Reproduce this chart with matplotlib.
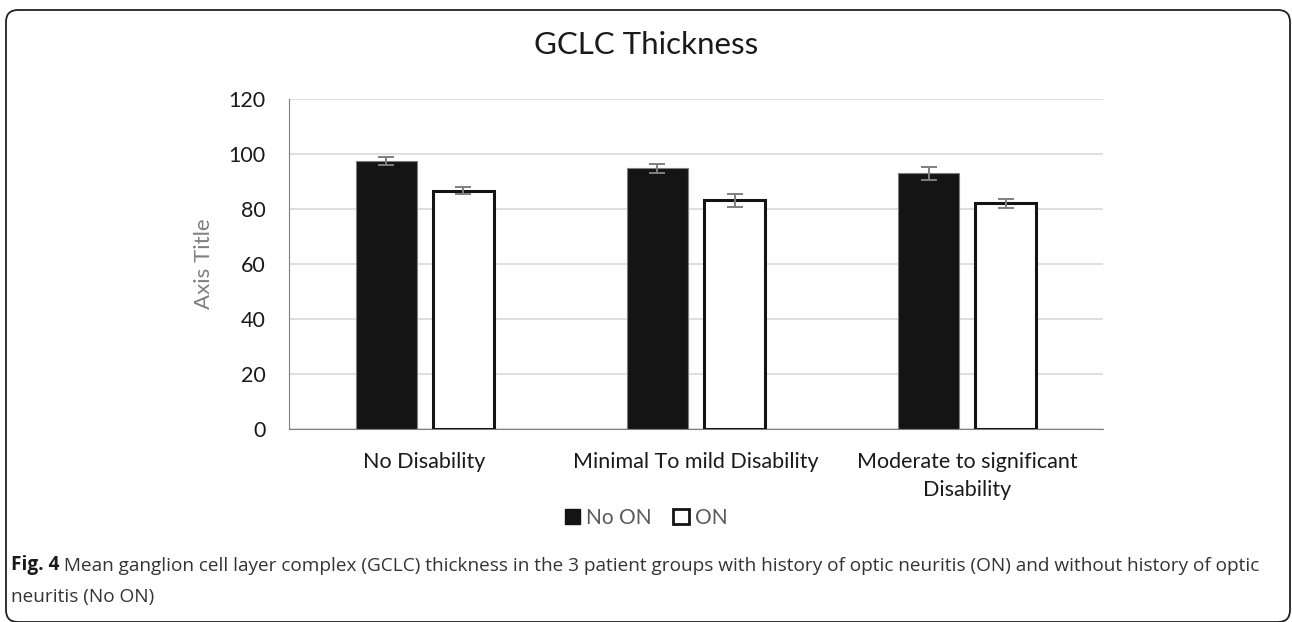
import numpy as np
import matplotlib
matplotlib.use("Agg")
import matplotlib.pyplot as plt
from matplotlib.patches import FancyBboxPatch, Patch

# data
groups = ["No Disability", "Minimal To mild Disability", "Moderate to significant\nDisability"]
no_on = [97.4, 94.8, 92.9]
no_on_err = [1.6, 1.6, 2.2]
on = [86.6, 83.1, 82.0]
on_err = [1.2, 2.4, 1.5]

plt.rcParams["font.family"] = ["Lato", "DejaVu Sans"]

fig = plt.figure(figsize=(12.92, 6.22), dpi=100)

# background layer in pixel coords: rounded frame + caption
bg = fig.add_axes([0, 0, 1, 1], zorder=-1)
bg.set_xlim(0, 1292)
bg.set_ylim(622, 0)
bg.axis("off")
frame = FancyBboxPatch((6, 10), 1284, 612, boxstyle="round,pad=0,rounding_size=12",
                       fc="white", ec="#222222", lw=1.3)
bg.add_patch(frame)
cap_font = ["Open Sans", "DejaVu Sans"]
t = bg.text(11, 565, "Fig. 4", fontsize=13.7, fontweight="bold", family=cap_font,
            color="#1a1a1a", va="center", ha="left")
bg.annotate(" Mean ganglion cell layer complex (GCLC) thickness in the 3 patient groups with history "
            "of optic neuritis (ON) and without history of optic",
            xy=(1, 0), xycoords=t, va="bottom", ha="left", fontsize=13.7, family=cap_font,
            color="#333333")
bg.text(11, 597, "neuritis (No ON)", fontsize=13.7, family=cap_font, color="#333333",
        va="center", ha="left")

ax = fig.add_axes([289 / 1292, 1 - 428.7 / 622, 814 / 1292, (428.7 - 99) / 622])
x = np.arange(len(groups))
w = 0.225
off = 0.142
err_kw = dict(ecolor="#7f7f7f", elinewidth=1.4, capsize=6, capthick=1.4)
ax.bar(x - off, no_on, w, yerr=no_on_err, color="#141414", edgecolor="#7f7f7f",
       linewidth=0.8, error_kw=err_kw, label="No ON", zorder=3)
ax.bar(x + off, on, w, yerr=on_err, color="white", edgecolor="#141414",
       linewidth=2.2, error_kw=err_kw, label="ON", zorder=3)

ax.set_xlim(-0.5, 2.5)
ax.set_ylim(0, 120)
ax.set_yticks(range(0, 121, 20))
ax.set_xticks(x)
ax.set_xticklabels(groups, fontsize=15.5, color="#1a1a1a", linespacing=1.45)
ax.tick_params(axis="y", labelsize=15.5, labelcolor="#1a1a1a", length=0, pad=17)
ax.tick_params(axis="x", length=0, pad=17)
ax.grid(axis="y", color="#d9d9d9", linewidth=1.2, zorder=0)
for s in ["top", "right"]:
    ax.spines[s].set_visible(False)
ax.spines["left"].set_color("#7f7f7f")
ax.spines["bottom"].set_color("#7f7f7f")
ax.set_ylabel("Axis Title", fontsize=16, color="#7f7f7f", labelpad=10)

fig.text(0.5, 1 - 45 / 622, "GCLC Thickness", fontsize=22.5, ha="center", va="center",
         color="#1a1a1a")

handles = [Patch(facecolor="#141414", edgecolor="#141414"),
           Patch(facecolor="white", edgecolor="#141414", linewidth=2)]
fig.legend(handles, ["No ON", "ON"], loc="center", bbox_to_anchor=(0.5, 1 - 518 / 622),
           ncol=2, frameon=False, fontsize=15, labelcolor="#595959",
           handlelength=0.75, handleheight=0.75, handletextpad=0.3, columnspacing=1.0)

fig.savefig("out.png", dpi=100)
